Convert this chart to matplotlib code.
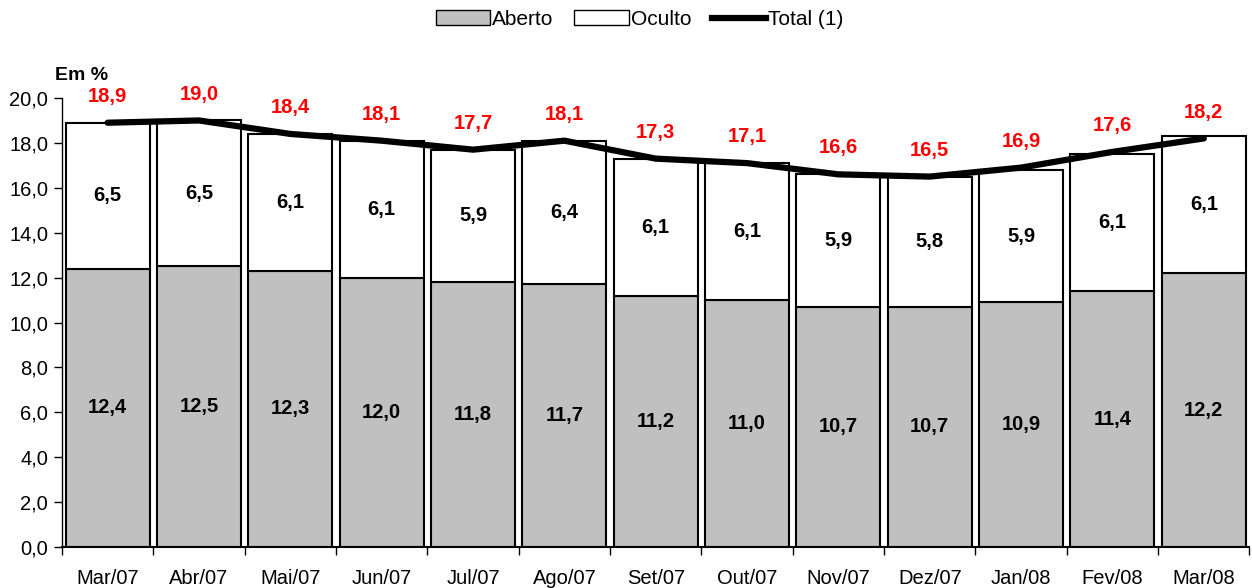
import numpy as np
import matplotlib.pyplot as plt
from matplotlib.patches import Patch
from matplotlib.lines import Line2D

plt.rcParams['font.family'] = ['Liberation Sans', 'DejaVu Sans']

meses = ['Mar/07', 'Abr/07', 'Mai/07', 'Jun/07', 'Jul/07', 'Ago/07', 'Set/07',
         'Out/07', 'Nov/07', 'Dez/07', 'Jan/08', 'Fev/08', 'Mar/08']
aberto = [12.4, 12.5, 12.3, 12.0, 11.8, 11.7, 11.2, 11.0, 10.7, 10.7, 10.9, 11.4, 12.2]
oculto = [6.5, 6.5, 6.1, 6.1, 5.9, 6.4, 6.1, 6.1, 5.9, 5.8, 5.9, 6.1, 6.1]
total = [18.9, 19.0, 18.4, 18.1, 17.7, 18.1, 17.3, 17.1, 16.6, 16.5, 16.9, 17.6, 18.2]


def fmt(v):
    return f'{v:.1f}'.replace('.', ',')


fig = plt.figure(figsize=(12.52, 5.88), dpi=100)
ax = fig.add_axes([0.0495, 0.0697, 0.9485, 0.7636])

x = np.arange(len(meses))
w = 0.92
ax.bar(x, aberto, w, color='#c0c0c0', edgecolor='black', linewidth=1.5)
ax.bar(x, oculto, w, bottom=aberto, color='white', edgecolor='black', linewidth=1.5)
ax.plot(x, total, color='black', linewidth=4.5, solid_capstyle='round', zorder=5)

for i in range(len(meses)):
    ax.text(x[i], aberto[i] / 2, fmt(aberto[i]), ha='center', va='center',
            fontsize=14.5, fontweight='bold')
    ax.text(x[i], aberto[i] + oculto[i] / 2, fmt(oculto[i]), ha='center', va='center',
            fontsize=14.5, fontweight='bold')
    ax.annotate(fmt(total[i]), (x[i], total[i]), xytext=(0, 19), textcoords='offset points',
                ha='center', va='center', fontsize=14.5, fontweight='bold', color='red',
                annotation_clip=False, zorder=6)

ax.set_xlim(-0.5, len(meses) - 0.5)
ax.set_ylim(0, 20)
ax.set_yticks(np.arange(0, 20.1, 2))
ax.set_yticklabels([fmt(v) for v in np.arange(0, 20.1, 2)], fontsize=14.5)
ax.set_xticks(x)
ax.set_xticklabels(meses, fontsize=14.5)
ax.set_xticks(np.arange(-0.5, len(meses), 1), minor=True)
ax.tick_params(axis='x', which='major', length=0, pad=16)
ax.tick_params(axis='x', which='minor', length=6, width=1)
ax.tick_params(axis='y', length=6, width=1, pad=4)
for s in ['top', 'right']:
    ax.spines[s].set_visible(False)
ax.spines['left'].set_linewidth(1)
ax.spines['bottom'].set_linewidth(1.5)

fig.text(0.044, 0.872, 'Em %', fontsize=14, fontweight='bold', ha='left', va='center')

handles = [Patch(facecolor='#c0c0c0', edgecolor='black', linewidth=1),
           Patch(facecolor='white', edgecolor='black', linewidth=1),
           Line2D([0], [0], color='black', linewidth=4.5)]
fig.legend(handles, ['Aberto', 'Oculto', 'Total (1)'], loc='center', ncol=3,
           bbox_to_anchor=(0.511, 0.967), frameon=False, fontsize=15,
           handlelength=2.6, handletextpad=0.1, columnspacing=1.0)

fig.savefig('out.png', dpi=100)
